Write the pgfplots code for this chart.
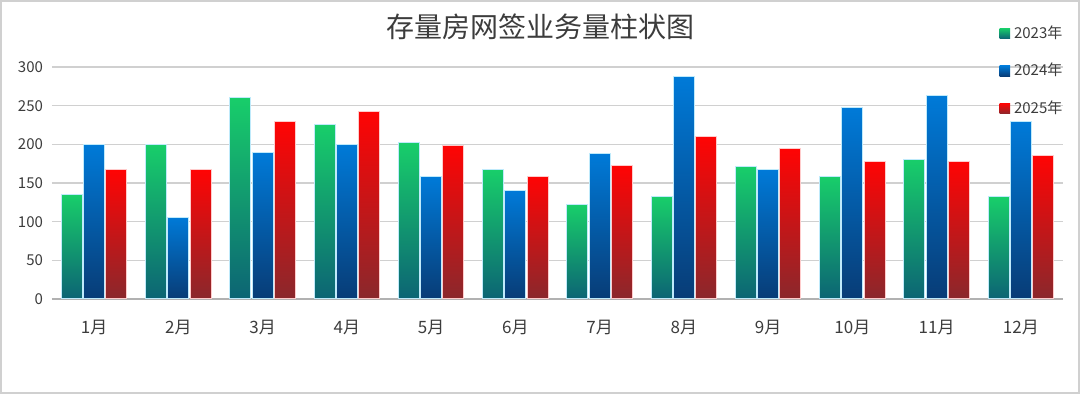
\documentclass[border=0pt]{standalone}
\usepackage{pgfplots}
\usepackage{pgfplotstable}
\pgfplotsset{compat=1.18}
\usepackage{fontspec}
\setmainfont{Noto Sans CJK SC}
\definecolor{gtop}{RGB}{24,206,106}
\definecolor{gmid}{RGB}{16,164,112}
\definecolor{gbot}{RGB}{12,100,116}
\definecolor{btop}{RGB}{0,122,216}
\definecolor{bmid}{RGB}{2,96,180}
\definecolor{bbot}{RGB}{8,60,118}
\definecolor{rtop}{RGB}{255,4,4}
\definecolor{rmid}{RGB}{224,28,30}
\definecolor{rbot}{RGB}{138,40,44}
\definecolor{gridc}{RGB}{208,208,208}
\definecolor{txt}{RGB}{60,60,60}
\pgfplotstableread{
x  g   b   r
0  135 200 167
1  200 106 167
2  261 189 229
3  226 200 243
4  202 158 199
5  167 140 159
6  122 188 172
7  133 288 210
8  171 167 194
9  159 247 178
10 181 263 178
11 132 229 185
}\datatable
\pgfplotsset{
  gcol/.style={draw=white!75!cyan, line width=0.5pt, top color=gtop, middle color=gmid, bottom color=gbot},
  bcol/.style={draw=white!75!cyan, line width=0.5pt, top color=btop, middle color=bmid, bottom color=bbot},
  rcol/.style={draw=white!80!red, line width=0.5pt, top color=rtop, middle color=rmid, bottom color=rbot},
  onebar/.style={ybar, bar width=0.25, forget plot},
}
\begin{document}
\begin{tikzpicture}
\path (-26pt,-47.5pt) rectangle (514pt,149.5pt);
\draw[gridc, line width=0.6pt] (-25.5pt,-47pt) rectangle (513.5pt,149pt);
\begin{axis}[
  at={(0,0)}, anchor=south west, scale only axis,
  width=505.5pt, height=116pt,
  xmin=-0.5, xmax=11.5, ymin=0, ymax=300,
  xtick={0,...,11},
  xticklabels={1月,2月,3月,4月,5月,6月,7月,8月,9月,10月,11月,12月},
  ytick={0,50,...,300},
  major tick length=0pt,
  axis x line*=bottom, axis y line*=left,
  y axis line style={draw=none},
  x axis line style={draw=gridc!85!black, line width=0.6pt},
  ymajorgrids, grid style={gridc, line width=0.6pt},
  /pgf/number format/assume math mode=true,
  yticklabel style={font=\fontsize{7.5pt}{9pt}\selectfont, text=txt, xshift=-1pt},
  xticklabel style={font=\fontsize{8.5pt}{9pt}\selectfont, text=txt, yshift=-7pt},
  legend style={at={(0.931,1.215)}, anchor=north west, draw=none, fill=none,
     font=\fontsize{7.5pt}{9pt}\selectfont, row sep=7pt, text=txt},
  legend cell align=left,
  legend image code/.code={\draw[#1, line width=0pt, draw=none] (0pt,-2.6pt) rectangle (5.2pt,2.6pt);},
  clip=false,
]
\pgfplotsinvokeforeach{0,...,11}{
  \addplot[onebar, bar shift=-0.264, gcol, restrict x to domain=#1:#1] table[x=x, y=g] {\datatable};
  \addplot[onebar, bar shift=0, bcol, restrict x to domain=#1:#1] table[x=x, y=b] {\datatable};
  \addplot[onebar, bar shift=0.264, rcol, restrict x to domain=#1:#1] table[x=x, y=r] {\datatable};
}
\addlegendimage{gcol}\addlegendentry{2023年}
\addlegendimage{bcol}\addlegendentry{2024年}
\addlegendimage{rcol}\addlegendentry{2025年}
\end{axis}
\node[font=\fontsize{14pt}{16pt}\selectfont, text=txt] at (244pt,136pt) {存量房网签业务量柱状图};
\end{tikzpicture}
\end{document}
